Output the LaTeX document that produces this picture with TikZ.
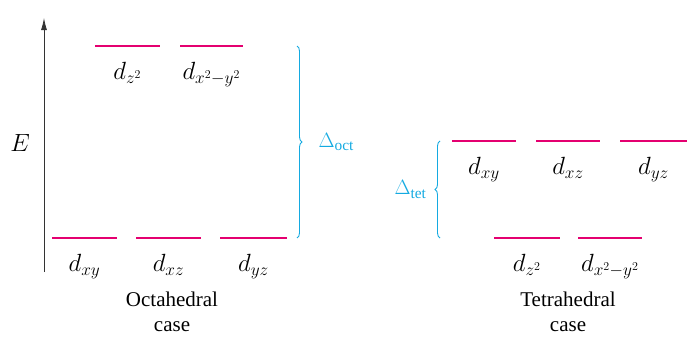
\documentclass[tikz,border=0pt]{standalone}
\usepackage{fontspec}
\setmainfont{Liberation Serif}
\usetikzlibrary{arrows.meta,positioning,decorations.pathreplacing}
\definecolor{levelpink}{RGB}{228,0,112}
\definecolor{gapcyan}{RGB}{20,170,225}

\begin{document}
\begin{tikzpicture}[
    x=1pt, y=-1pt,
    level/.style={draw=levelpink, line width=1.6pt},
    orb/.style={font=\fontsize{25}{30}\selectfont, inner sep=0pt},
    caption/.style={align=center, font=\fontsize{21}{25}\selectfont},
    gap/.style={draw=gapcyan, line width=0.9pt, decorate, decoration={brace, amplitude=5pt}},
    gaplabel/.style={text=gapcyan, font=\fontsize{22}{26}\selectfont},
    axis/.style={-{Latex[length=12pt,width=6pt]}, line width=0.8pt, draw=black!80}
]
\useasboundingbox (0,0) rectangle (687,348);

% energy axis
\coordinate (ax0) at (44,272);
\coordinate (ax1) at (44,18);
\draw[axis] (ax0) -- (ax1);
\node[orb, font=\fontsize{27}{30}\selectfont] (E) at (20,143) {$E$};

% octahedral case
\draw[level] (95,46) -- (160,46) coordinate[midway] (oz);
\draw[level] (180,46) -- (243,46) coordinate[midway] (ox);
\draw[level] (52,238) -- (117,238) coordinate[midway] (oxy);
\draw[level] (136,238) -- (201,238) coordinate[midway] (oxz);
\draw[level] (220,238) -- (287,238) coordinate[midway] (oyz);
\node[orb, below=16pt of oz] (lz) {$d_{z^2}$};
\node[orb, below=16pt of ox] (lx) {$d_{x^2-y^2}$};
\node[orb, below=16pt of oxy] (lxy) {$d_{xy}$};
\node[orb, below=16pt of oxz] (lxz) {$d_{xz}$};
\node[orb, below=16pt of oyz] (lyz) {$d_{yz}$};
\node[caption] (oct) at (172,312) {Octahedral\\case};

\coordinate (ot) at (297,46);
\coordinate (ob) at (297,238);
\draw[gap] (ot) -- (ob) coordinate[midway] (om);
\node[gaplabel, anchor=west] (doct) at ([xshift=18pt]om) {$\Delta_{\mathrm{oct}}$};

% tetrahedral case
\draw[level] (452,141) -- (516,141) coordinate[midway] (txy);
\draw[level] (536,141) -- (600,141) coordinate[midway] (txz);
\draw[level] (620,141) -- (687,141) coordinate[midway] (tyz);
\draw[level] (494,238) -- (560,238) coordinate[midway] (tz);
\draw[level] (578,238) -- (642,238) coordinate[midway] (tx);
\node[orb, below=16pt of txy] (mxy) {$d_{xy}$};
\node[orb, below=16pt of txz] (mxz) {$d_{xz}$};
\node[orb, below=16pt of tyz] (myz) {$d_{yz}$};
\node[orb, below=16pt of tz] (mz) {$d_{z^2}$};
\node[orb, below=16pt of tx] (mx) {$d_{x^2-y^2}$};
\node[caption] (tet) at (568,312) {Tetrahedral\\case};

\coordinate (tt) at (440,141);
\coordinate (tb) at (440,238);
\draw[gap] (tb) -- (tt) coordinate[midway] (tm);
\node[gaplabel, anchor=east] (dtet) at ([xshift=-10pt]tm) {$\Delta_{\mathrm{tet}}$};
\end{tikzpicture}
\end{document}
